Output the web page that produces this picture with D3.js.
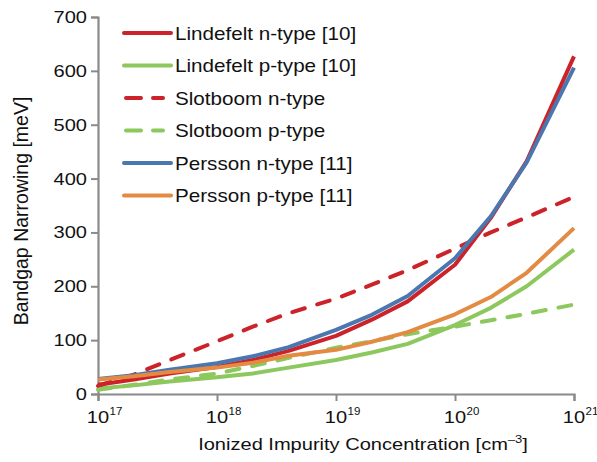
<!DOCTYPE html>
<html><head><meta charset="utf-8">
<script src="https://cdn.jsdelivr.net/npm/d3@7"></script>
<style>
body { margin: 0; background: #fff; }
text { font-family: "Liberation Sans", Arial, Helvetica, sans-serif; fill: #111; }
</style></head>
<body>
<svg id="chart" width="597" height="462"></svg>
<script>
// doping levels (cm^-3), 1, 2, 4 per decade
const conc = [1e17, 2e17, 4e17, 1e18, 2e18, 4e18, 1e19, 2e19, 4e19, 1e20, 2e20, 4e20, 1e21];

const lindefeltN = [17, 27, 38, 50, 63, 80, 108, 138, 172, 240, 327, 432, 627];
const lindefeltP = [10, 16, 23, 31, 38, 49, 63, 77, 93, 128, 160, 200, 268];
const slotboomN  = [15, 36, 63, 98, 125, 150, 177, 203, 230, 270, 300, 328, 366];
const slotboomP  = [8, 17, 27, 38, 52, 67, 86, 98, 111, 125, 137, 149, 166];
const perssonN   = [28, 35, 45, 57, 70, 87, 119, 147, 182, 252, 330, 430, 606];
const perssonP   = [27, 33, 41, 49, 58, 71, 82, 97, 115, 148, 180, 225, 308];

const seriesNames = ["Lindefelt n-type [10]", "Lindefelt p-type [10]", "Slotboom n-type",
                     "Slotboom p-type", "Persson n-type [11]", "Persson p-type [11]"];
const seriesValues = [lindefeltN, lindefeltP, slotboomN, slotboomP, perssonN, perssonP];
const seriesColors = ["#cc2229", "#8dc85e", "#cc2229", "#8dc85e", "#4a77b0", "#e38a43"];
const seriesDashed = [false, false, true, true, false, false];

const yTicks = [0, 100, 200, 300, 400, 500, 600, 700];
const xTickExp = [17, 18, 19, 20, 21];

const svg = d3.select("#chart");
const axisColor = "#8a8a8a";
const sx = 1.18;   // text in the original is a bit wide

let x = d3.scaleLog().domain([1e17, 1e21]).range([98, 574]);
let y = d3.scaleLinear().domain([0, 700]).range([394, 17]);

// y axis
let yAxis = svg.append("g")
  .attr("transform", "translate(98,0)")
  .call(d3.axisLeft(y).tickValues(yTicks).tickSize(7).tickPadding(4).tickFormat(d3.format("d")));
yAxis.select(".domain").attr("stroke", axisColor).attr("stroke-width", 2.2);
yAxis.selectAll(".tick line").attr("stroke", axisColor).attr("stroke-width", 2);
yAxis.selectAll(".tick text")
  .attr("x", -11 / sx)
  .attr("transform", "scale(" + sx + ",1)")
  .style("font-size", "17px").attr("fill", "#111")
  .style("font-family", "'Liberation Sans', Arial, sans-serif");

// x axis
let xAxis = svg.append("g")
  .attr("transform", "translate(0,394)")
  .call(d3.axisBottom(x).tickValues(xTickExp.map(e => Math.pow(10, e))).tickSize(7).tickFormat(""));
xAxis.select(".domain").attr("stroke", axisColor).attr("stroke-width", 2.2);
xAxis.selectAll(".tick line").attr("stroke", axisColor).attr("stroke-width", 2);

// x tick labels: "10" centred on the tick, exponent hanging to the right
xTickExp.forEach(e => {
  let tx = x(Math.pow(10, e));
  svg.append("text")
    .attr("transform", "translate(" + tx + ",423) scale(" + sx + ",1)")
    .attr("text-anchor", "middle")
    .style("font-size", "17px")
    .text("10");
  svg.append("text")
    .attr("x", tx + 11.5).attr("y", 415)
    .style("font-size", "11.5px")
    .text(e);
});

// axis titles
let xt = svg.append("text")
  .attr("transform", "translate(363,450) scale(" + sx + ",1)")
  .attr("text-anchor", "middle")
  .style("font-size", "17px");
xt.append("tspan").text("Ionized Impurity Concentration [cm");
xt.append("tspan").attr("dy", -7).style("font-size", "11px").text("\u20133");
xt.append("tspan").attr("dy", 7).text("]");

svg.append("text")
  .attr("transform", "translate(28,211) rotate(-90)")
  .attr("text-anchor", "middle")
  .style("font-size", "19.5px")
  .text("Bandgap Narrowing [meV]");

// lines
let line = d3.line()
  .x((d, i) => x(conc[i]))
  .y(d => y(d));

let lines = svg.append("g").attr("id", "lines");
seriesValues.forEach((vals, i) => {
  lines.append("path")
    .datum(vals)
    .attr("d", line)
    .attr("fill", "none")
    .attr("stroke", seriesColors[i])
    .attr("stroke-width", 4)
    .attr("stroke-linecap", seriesDashed[i] ? "round" : "butt")
    .attr("stroke-linejoin", "round")
    .attr("stroke-dasharray", seriesDashed[i] ? "13,13" : null);
});

// legend
let legend = svg.append("g").attr("id", "legend");
seriesNames.forEach((name, i) => {
  let ly = 33 + i * 32.5;
  legend.append("line")
    .attr("x1", seriesDashed[i] ? 126 : 124).attr("x2", seriesDashed[i] ? 163 : 171)
    .attr("y1", ly).attr("y2", ly)
    .attr("stroke", seriesColors[i])
    .attr("stroke-width", 4)
    .attr("stroke-linecap", "round")
    .attr("stroke-dasharray", seriesDashed[i] ? "15,12" : null);
  legend.append("text")
    .attr("transform", "translate(175," + (ly + 6.5) + ") scale(" + sx + ",1)")
    .style("font-size", "17.5px")
    .text(name);
});
</script>
</body></html>
